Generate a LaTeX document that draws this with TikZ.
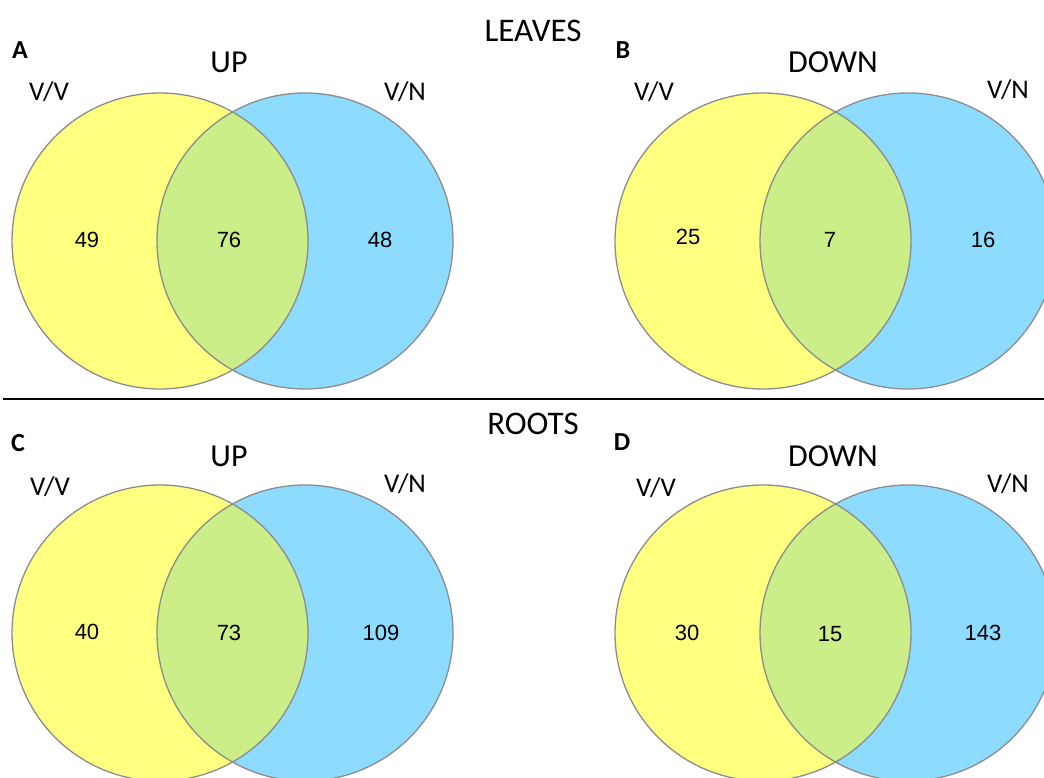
\documentclass[tikz,border=0pt]{standalone}
\usepackage{fontspec}
\setmainfont{Carlito}
\newfontfamily\numfont{Liberation Sans}
\definecolor{vvyellow}{HTML}{FFFF80}
\definecolor{vnblue}{HTML}{8DDCFF}
\definecolor{bothgreen}{HTML}{CBEE88}
\definecolor{rimgray}{HTML}{8C8C8C}

\begin{document}
\begin{tikzpicture}[x=1pt, y=-1pt,
    panel/.style={font=\bfseries\fontsize{26}{30}\selectfont, inner sep=0pt},
    title/.style={font=\fontsize{32}{36}\selectfont, inner sep=0pt},
    head/.style={font=\fontsize{33}{38}\selectfont, inner sep=0pt},
    setlbl/.style={font=\fontsize{27}{32}\selectfont, inner sep=0pt},
    count/.style={font=\numfont\fontsize{22}{26}\selectfont, inner sep=0pt},
    rim/.style={draw=rimgray, line width=1.3pt},
]
\useasboundingbox (0,0) rectangle (1044,778);
\clip (0,0) rectangle (1044,778);

% Panel A (leaves, up)
\fill[vvyellow] (160,241) circle (148);
\fill[vnblue] (305,241) circle (148);
\begin{scope}
  \clip (160,241) circle (148);
  \fill[bothgreen] (305,241) circle (148);
\end{scope}
\draw[rim] (160,241) circle (148);
\draw[rim] (305,241) circle (148);

% Panel B (leaves, down)
\fill[vvyellow] (763,241) circle (148);
\fill[vnblue] (908,241) circle (148);
\begin{scope}
  \clip (763,241) circle (148);
  \fill[bothgreen] (908,241) circle (148);
\end{scope}
\draw[rim] (763,241) circle (148);
\draw[rim] (908,241) circle (148);

% Panel C (roots, up)
\fill[vvyellow] (160,633) circle (148);
\fill[vnblue] (305,633) circle (148);
\begin{scope}
  \clip (160,633) circle (148);
  \fill[bothgreen] (305,633) circle (148);
\end{scope}
\draw[rim] (160,633) circle (148);
\draw[rim] (305,633) circle (148);

% Panel D (roots, down)
\fill[vvyellow] (763,633) circle (148);
\fill[vnblue] (908,633) circle (148);
\begin{scope}
  \clip (763,633) circle (148);
  \fill[bothgreen] (908,633) circle (148);
\end{scope}
\draw[rim] (763,633) circle (148);
\draw[rim] (908,633) circle (148);

% Headings
\node[head] (leaves) at (533,31) {LEAVES};
\node[head] (roots)  at (533,424) {ROOTS};

% Separator
\coordinate (sepL) at (3,399);
\coordinate (sepR) at (1044,399);
\draw[line width=1.2pt] (sepL) -- (sepR);

% Panel letters
\node[panel] (pA) at (20,50)  {A};
\node[panel] (pB) at (623,50) {B};
\node[panel] (pC) at (18,443) {C};
\node[panel] (pD) at (622,442) {D};

% Titles
\node[title] (upA)   at (229,62)  {UP};
\node[title] (downB) at (833,62)  {DOWN};
\node[title] (upC)   at (229,456) {UP};
\node[title] (downD) at (833,456) {DOWN};

% Set labels
\node[setlbl] (vvA) at (49,92)    {V/V};
\node[setlbl] (vnA) at (405,92)   {V/N};
\node[setlbl] (vvB) at (654,92)   {V/V};
\node[setlbl] (vnB) at (1008,90)  {V/N};
\node[setlbl] (vvC) at (50,487)   {V/V};
\node[setlbl] (vnC) at (405,484)  {V/N};
\node[setlbl] (vvD) at (656,488)  {V/V};
\node[setlbl] (vnD) at (1008,484) {V/N};

% Counts
\node[count] (nA1) at (87,240)  {49};
\node[count] (nA2) at (229,240) {76};
\node[count] (nA3) at (380,240) {48};
\node[count] (nB1) at (688,237) {25};
\node[count] (nB2) at (830,240) {7};
\node[count] (nB3) at (983,240) {16};
\node[count] (nC1) at (87,632)  {40};
\node[count] (nC2) at (229,633) {73};
\node[count] (nC3) at (381,633) {109};
\node[count] (nD1) at (687,633) {30};
\node[count] (nD2) at (830,634) {15};
\node[count] (nD3) at (983,633) {143};

\end{tikzpicture}
\end{document}
